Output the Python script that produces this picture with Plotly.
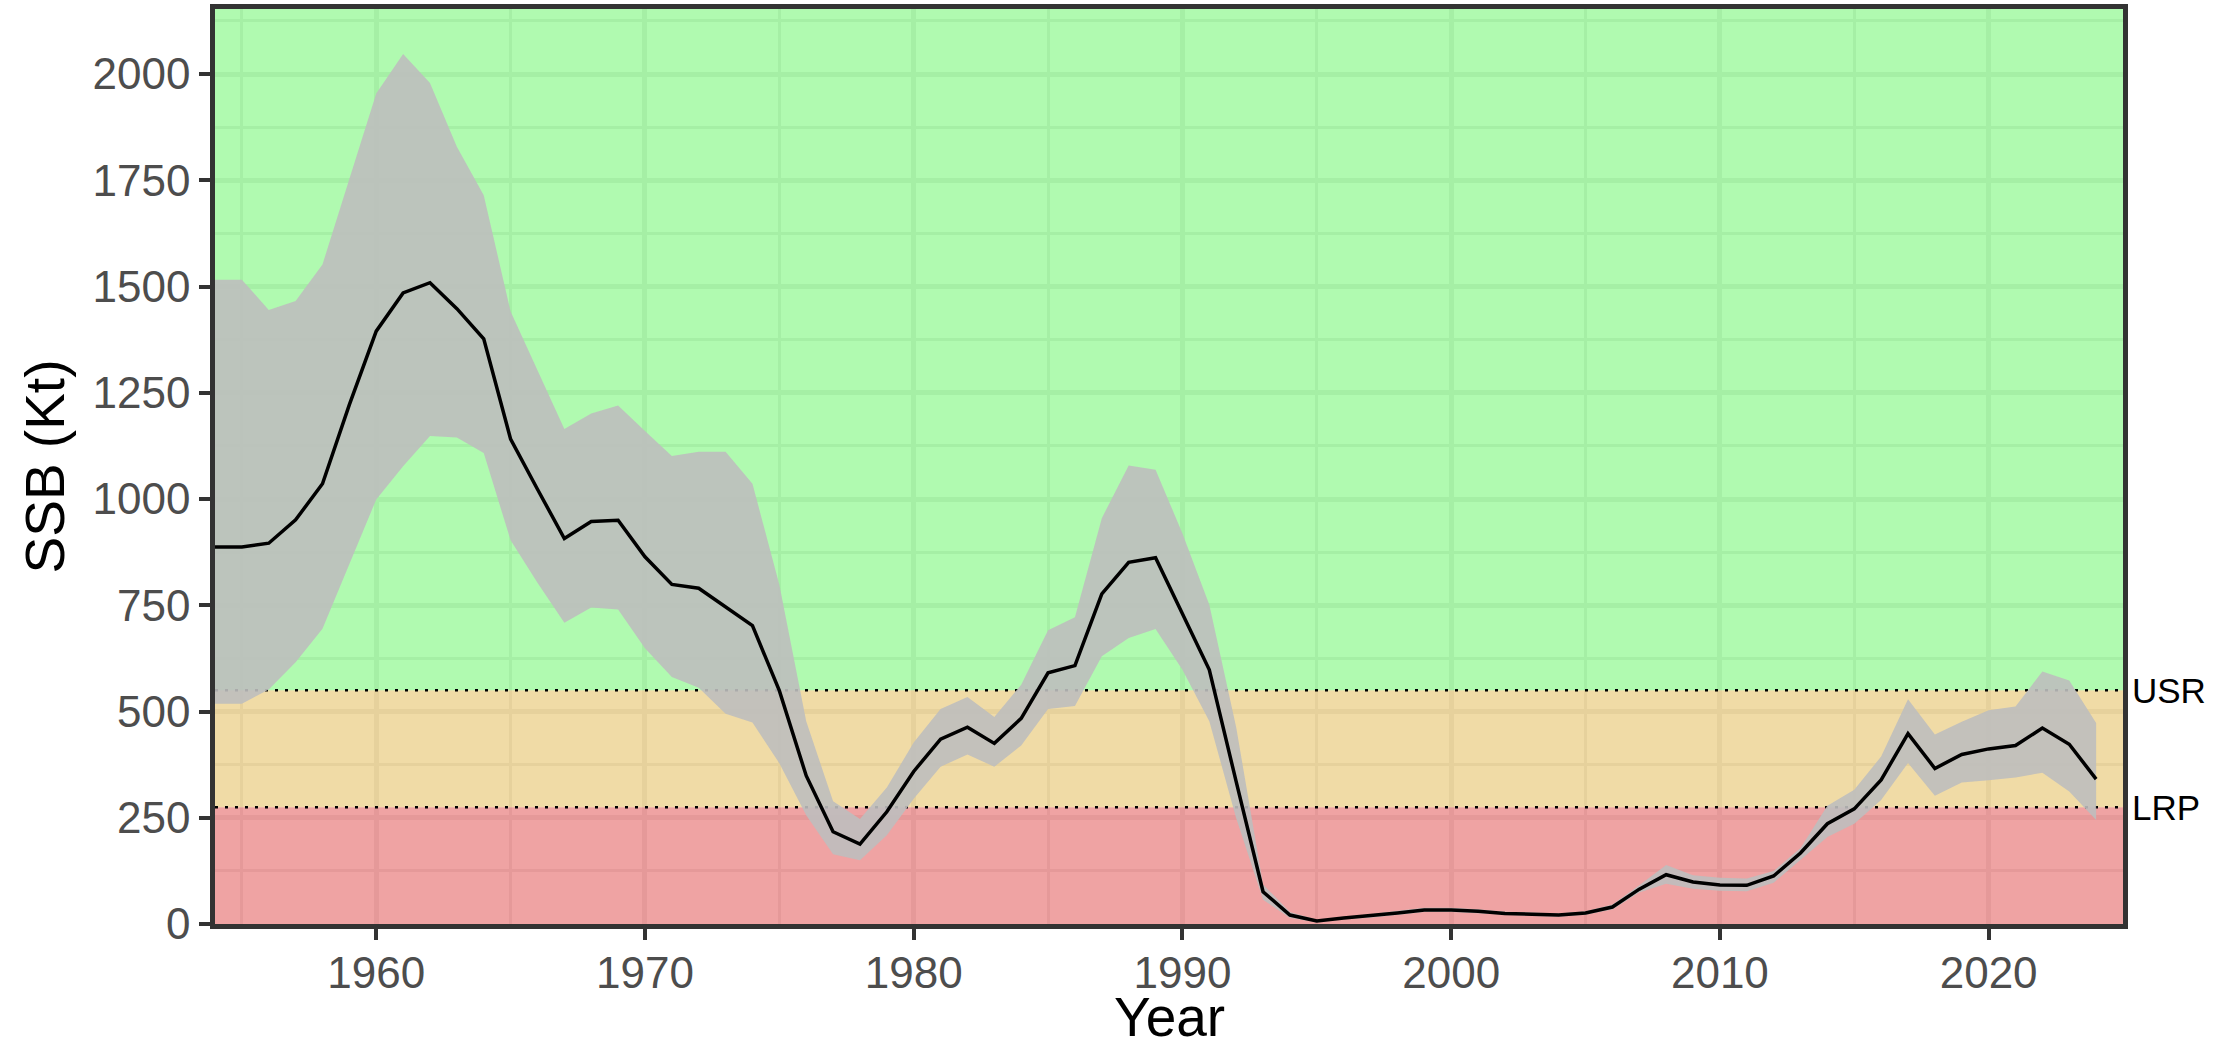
import plotly.graph_objects as go

years = list(range(1954, 2025))
ssb = [887, 887, 896, 951, 1036, 1222, 1395, 1485, 1509, 1448, 1377, 1141, 1023, 907, 947, 950,
       864, 799, 790, 745, 702, 549, 349, 217, 188, 264, 359, 435, 463, 425, 484, 591, 608, 777,
       851, 862, 731, 598, 335, 76, 21, 7, 14, 19, 26, 33, 33, 30, 25, 23, 21, 26, 40, 82, 116,
       99, 92, 91, 113, 167, 236, 271, 339, 448, 366, 399, 412, 420, 461, 423, 341]
upper = [1516, 1516, 1445, 1466, 1552, 1755, 1954, 2047, 1979, 1829, 1715, 1441, 1302, 1165, 1201,
         1220, 1160, 1101, 1111, 1111, 1036, 798, 477, 289, 247, 321, 427, 506, 534, 487, 563, 691,
         722, 955, 1079, 1069, 919, 751, 463, 93, 28, 10, 17, 23, 31, 38, 38, 35, 29, 27, 25, 30,
         46, 91, 139, 115, 109, 107, 125, 179, 278, 316, 394, 529, 446, 476, 503, 512, 594, 573, 473]
lower = [518, 518, 552, 616, 695, 849, 999, 1077, 1148, 1145, 1108, 903, 803, 709, 745, 740, 649,
         581, 556, 495, 474, 378, 256, 164, 150, 209, 295, 370, 399, 370, 420, 506, 513, 630, 673,
         694, 598, 477, 249, 57, 14, 4, 11, 15, 21, 28, 28, 25, 21, 19, 17, 22, 34, 74, 95, 83, 78,
         77, 97, 152, 205, 236, 292, 379, 302, 333, 338, 345, 356, 312, 245]

LRP = 275
USR = 550
ref_names = ["LRP", "USR"]
ref_values = [LRP, USR]

x_range = [1954, 2025]
y_max = 2153

FONT = "Liberation Sans, Arial, sans-serif"
GRID = "rgb(239,239,239)"

fig = go.Figure()

fig.add_trace(go.Scatter(x=years, y=lower, mode="lines", line=dict(width=0, color="rgba(0,0,0,0)"),
                         showlegend=False, hoverinfo="skip"))
fig.add_trace(go.Scatter(x=years, y=upper, mode="lines", line=dict(width=0, color="rgba(0,0,0,0)"),
                         fill="tonexty", fillcolor="rgba(190,190,190,0.9)", showlegend=False,
                         hoverinfo="skip"))
fig.add_trace(go.Scatter(x=years, y=ssb, mode="lines", line=dict(color="black", width=3.5),
                         showlegend=False))

# zone bands
bands = [(0, LRP, "rgba(215,25,25,0.4)"),
         (LRP, USR, "rgba(218,165,32,0.4)"),
         (USR, y_max, "rgba(0,238,0,0.31)")]
for y0, y1, col in bands:
    fig.add_shape(type="rect", xref="x", yref="y", x0=x_range[0], x1=x_range[1], y0=y0, y1=y1,
                  fillcolor=col, line=dict(width=0), layer="between")

for name, v in zip(ref_names, ref_values):
    fig.add_shape(type="line", xref="x", yref="y", x0=x_range[0], x1=x_range[1], y0=v, y1=v,
                  line=dict(color="black", width=2.5, dash="3px,7px"), layer="between")
    fig.add_annotation(x=1, xref="paper", y=v, yref="y", text=name, showarrow=False,
                       xanchor="left", yanchor="middle", xshift=7,
                       font=dict(family=FONT, size=35, color="black"))

# x-axis title as an annotation for precise placement
fig.add_annotation(x=0.5, xref="paper", y=0, yref="paper", text="Year", showarrow=False,
                   xanchor="center", yanchor="middle", yshift=-93,
                   font=dict(family=FONT, size=55, color="black"))

axis_common = dict(
    showline=True, mirror=True, linecolor="#333333", linewidth=4.5,
    ticks="outside", ticklen=11, tickwidth=4, tickcolor="#333333",
    showgrid=True, gridcolor=GRID, gridwidth=5,
    zeroline=False, automargin=False,
    tickfont=dict(family=FONT, size=44, color="#4d4d4d"),
)

fig.update_layout(
    width=2236, height=1053,
    margin=dict(l=215, r=113, t=9, b=129),
    paper_bgcolor="white", plot_bgcolor="white",
    font=dict(family=FONT),
    xaxis=dict(range=x_range, tick0=1960, dtick=10, **axis_common, ticklabelstandoff=-5,
               minor=dict(tick0=1955, dtick=5, showgrid=True, gridcolor=GRID,
                          gridwidth=2.5, ticks="")),
    yaxis=dict(range=[0, y_max], tick0=0, dtick=250, **axis_common,
               minor=dict(tick0=125, dtick=250, showgrid=True, gridcolor=GRID,
                          gridwidth=2.5, ticks=""),
               title=dict(text="SSB (Kt)", font=dict(family=FONT, size=55, color="black"), standoff=12)),
)

fig.write_html("out.html", config={"displayModeBar": False},
               post_script="document.body.style.margin='0';document.body.style.overflow='hidden';")
